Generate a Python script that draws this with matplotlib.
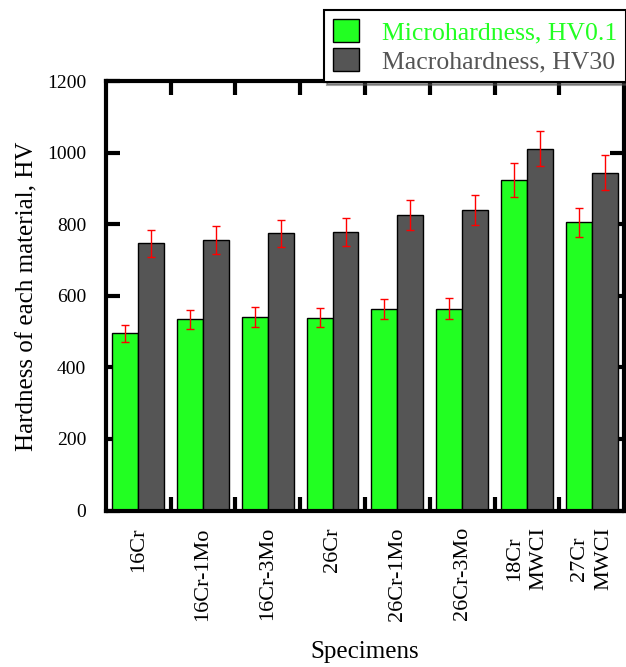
import matplotlib
matplotlib.use("Agg")
from matplotlib import pyplot as plt
import numpy as np

plt.rcParams.update({'font.family': 'Liberation Serif'})

specimens = ['16Cr', '16Cr-1Mo', '16Cr-3Mo', '26Cr', '26Cr-1Mo', '26Cr-3Mo', '18Cr\nMWCI', '27Cr\nMWCI']
micro = [495, 535, 541, 539, 564, 564, 925, 806]
micro_err = [25, 27, 28, 27, 28, 29, 47, 41]
macro = [747, 757, 775, 778, 826, 841, 1012, 945]
macro_err = [38, 39, 38, 39, 42, 42, 50, 48]
yticks = [0, 200, 400, 600, 800, 1000, 1200]

GREEN = '#22ff22'
GREY = '#555555'

fig = plt.figure(figsize=(6.26, 6.67), dpi=100)
ax = fig.add_axes([0.169, 0.2346, 0.828, 0.6434])

x = np.arange(len(specimens))
w = 0.4
ax.bar(x - w / 2, micro, w, color=GREEN, edgecolor='black', linewidth=1,
       label='Microhardness, HV0.1', zorder=2)
ax.bar(x + w / 2, macro, w, color=GREY, edgecolor='black', linewidth=1,
       label='Macrohardness, HV30', zorder=2)
ax.errorbar(x - w / 2, micro, yerr=micro_err, fmt='none', ecolor='red',
            elinewidth=1, capsize=3, capthick=1, zorder=3)
ax.errorbar(x + w / 2, macro, yerr=macro_err, fmt='none', ecolor='red',
            elinewidth=1, capsize=3, capthick=1, zorder=3)

ax.set_xlim(-0.5, len(specimens) - 0.5)
ax.set_ylim(0, 1200)

ax.set_xticks(x)
ax.set_xticklabels(specimens, rotation=90, fontsize=16, va='top', ha='center',
                   linespacing=1.35)
ax.set_xticks(np.arange(0.5, len(specimens) - 0.5, 1), minor=True)
ax.tick_params(axis='x', which='major', length=0, pad=12)
ax.tick_params(axis='x', which='minor', direction='in', length=10, width=3,
               top=True, bottom=True)

ax.set_yticks(yticks)
ax.set_yticklabels([str(v) for v in yticks], fontsize=14)
ax.tick_params(axis='y', direction='in', length=10, width=3, left=True, right=True, pad=14)

for s in ax.spines.values():
    s.set_linewidth(3)

ax.set_ylabel('Hardness of each material, HV', fontsize=18, labelpad=6)
ax.set_xlabel('Specimens', fontsize=18, labelpad=15)

lg = fig.legend(loc='upper right', bbox_to_anchor=(1.0, 0.985), fontsize=18.5,
                frameon=True, fancybox=False, shadow=True, handlelength=1.0,
                handleheight=1.0, borderpad=0.35, labelspacing=0.15,
                handletextpad=0.9, borderaxespad=0.0)
lg.get_frame().set_edgecolor('black')
lg.get_frame().set_linewidth(1.5)
for t, c in zip(lg.get_texts(), [GREEN, GREY]):
    t.set_color(c)

fig.savefig('out.png', dpi=100)
